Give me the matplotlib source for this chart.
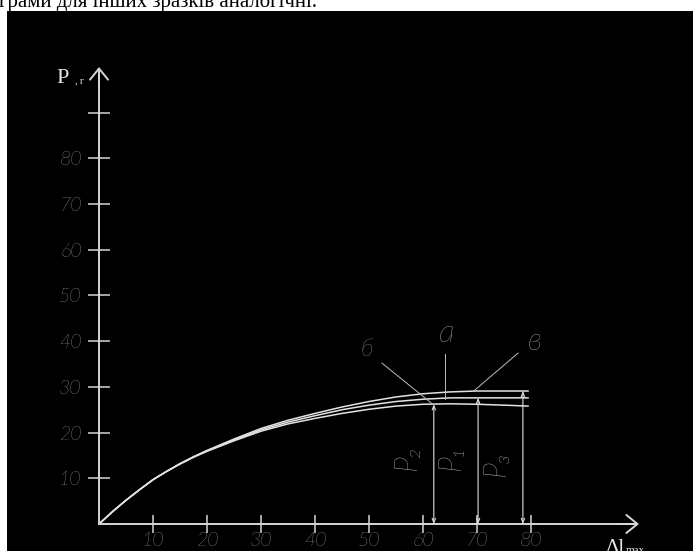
import matplotlib
matplotlib.use("Agg")
import matplotlib.pyplot as plt

# curves (deformation vs load)
deform = [0, 2.5, 5, 7.5, 10, 12.5, 15, 17.5, 20, 25, 30, 35, 40, 45, 50, 55, 60, 65, 70, 75, 79.5]
load_v = [0, 2.7, 5.2, 7.5, 9.7, 11.5, 13.2, 14.7, 16.1, 18.6, 20.9, 22.7, 24.2, 25.6, 26.8, 27.8, 28.5, 28.9, 29.1, 29.1, 29.1]
load_a = [0, 2.7, 5.2, 7.5, 9.7, 11.5, 13.2, 14.7, 16.0, 18.4, 20.6, 22.3, 23.7, 25.0, 26.0, 26.8, 27.3, 27.6, 27.6, 27.6, 27.6]
load_b = [0, 2.7, 5.2, 7.5, 9.7, 11.5, 13.1, 14.6, 15.9, 18.2, 20.3, 21.9, 23.1, 24.2, 25.1, 25.8, 26.2, 26.3, 26.2, 26.0, 25.8]

# max load markers P1, P2, P3
p_names = ["P₂", "P₁", "P₃"]
p_x = [62, 70.2, 78.5]
p_y = [26.2, 27.6, 29.1]

xticks = [10, 20, 30, 40, 50, 60, 70, 80]
yticks = [10, 20, 30, 40, 50, 60, 70, 80, 90]
ylabels = ["10", "20", "30", "40", "50", "60", "70", "80", ""]

fg = "#d6d6d6"
gost = dict(family=["Lato", "DejaVu Sans"], style="italic", weight="light", color="#f2f2f2")

fig = plt.figure(figsize=(6.93, 5.51), dpi=100)
fig.patch.set_facecolor("white")
fig.text(-0.002, 1 - 6.5 / 551, "грами для інших зразків аналогічні.", family="Liberation Serif",
         fontsize=15, color="black", va="baseline", ha="left", zorder=-1)

ax = fig.add_axes([7 / 693, 0, 686 / 693, 540 / 551])
ax.set_facecolor("black")
ax.set_xlim(-17.04, 110.0)
ax.set_ylim(-5.91, 112.25)

for s in ["top", "right"]:
    ax.spines[s].set_visible(False)
for s in ["left", "bottom"]:
    ax.spines[s].set_position(("data", 0))
    ax.spines[s].set_color(fg)
    ax.spines[s].set_linewidth(1.4)
    ax.spines[s].set_bounds(0, 99.5)

ax.annotate("", xy=(100, 0), xytext=(96, 0),
            arrowprops=dict(arrowstyle="->,head_length=0.8,head_width=0.65", color=fg, lw=1.4,
                            mutation_scale=10, shrinkA=0, shrinkB=0))
ax.annotate("", xy=(0, 100), xytext=(0, 96),
            arrowprops=dict(arrowstyle="->,head_length=0.8,head_width=0.65", color=fg, lw=1.4,
                            mutation_scale=10, shrinkA=0, shrinkB=0))

ax.set_xticks(xticks)
ax.set_xticklabels([str(t) for t in xticks])
ax.set_yticks(yticks)
ax.set_yticklabels(ylabels)
ax.tick_params(axis="x", direction="inout", length=13, width=1.1, color=fg, pad=-1)
ax.tick_params(axis="y", direction="inout", length=16, width=1.1, color=fg, pad=4.5)
for lbl in ax.get_xticklabels() + ax.get_yticklabels():
    lbl.set_fontsize(14)
    lbl.set_family(gost["family"])
    lbl.set_style("italic")
    lbl.set_weight(gost["weight"])
    lbl.set_color(gost["color"])

# the three curves
for ys in [load_v, load_a, load_b]:
    ax.plot(deform, ys, color="#e2e2e2", lw=1.1, solid_capstyle="round", solid_joinstyle="round")

# vertical load lines
for name, x, y in zip(p_names, p_x, p_y):
    ax.annotate("", xy=(x, y), xytext=(x, 0),
                arrowprops=dict(arrowstyle="<->,head_length=0.3,head_width=0.12", color="#e0e0e0",
                                lw=0.8, mutation_scale=10, shrinkA=0, shrinkB=0))
    ax.text(x - 4.9, 14.7 if name != "P₃" else 13.3, name, rotation=90, fontsize=22,
            ha="center", va="center", **gost)

# leader lines and curve letters
ax.plot([52.4, 61.7], [35.2, 26.3], color="#bdbdbd", lw=0.7)
ax.plot([64.1, 64.1], [37.2, 27.4], color="#bdbdbd", lw=0.7)
ax.plot([77.6, 69.4], [37.4, 29.1], color="#bdbdbd", lw=0.7)
ax.text(49.6, 38.1, "б", fontsize=17, ha="center", va="center", **gost)
ax.text(64.4, 41.6, "а", fontsize=23, ha="center", va="center", **gost)
ax.text(80.6, 40.0, "в", fontsize=22, ha="center", va="center", **gost)

# axis names
ax.text(-7.9, 96.5, "P", family="Liberation Serif", fontsize=16, color="#e6e6e6", va="baseline", ha="left")
ax.text(-4.5, 96.5, ", г", family="Liberation Serif", fontsize=7, color="#e6e6e6", va="baseline", ha="left")
ax.text(93.7, -6.4, "Δl", family="Liberation Serif", fontsize=15, color="#e6e6e6", va="baseline", ha="left", clip_on=False)
ax.text(97.5, -6.4, "max", family="Liberation Serif", fontsize=8, color="#e6e6e6", va="baseline", ha="left", clip_on=False)

fig.savefig("out.png", dpi=100, facecolor="white")
